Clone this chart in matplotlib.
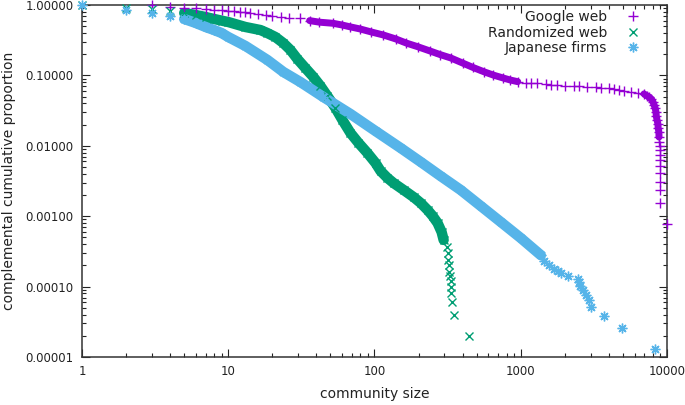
import numpy as np
import matplotlib
matplotlib.use("Agg")
import matplotlib.pyplot as plt
from matplotlib.ticker import LogLocator, NullFormatter, FixedLocator, FixedFormatter

# ---------------- data ----------------
google_size = [3, 4, 5, 6, 7, 8, 9, 10, 11, 12, 13, 14, 16, 18, 20, 23, 26, 31, 36, 42,
               52, 60, 68, 80, 95, 115, 140, 165, 197, 240, 280, 332, 400, 470, 558, 650,
               760, 850, 954, 1080, 1170, 1300, 1480, 1600, 1780, 2000, 2320, 2500, 2860,
               3250, 3530, 4000, 4350, 4700, 5060, 5640, 6330, 6960, 7300, 7540, 7800, 8020,
               8170, 8300, 8410, 8450, 8550, 8670, 8700, 8800, 8820, 8850, 8900, 8910, 8920,
               8930, 8935, 8940, 8945, 8950, 8955, 10050]
google_ccdf = [1.0, 0.95, 0.92, 0.90, 0.88, 0.86, 0.84, 0.82, 0.81, 0.80, 0.79, 0.78, 0.75,
               0.72, 0.70, 0.68, 0.66, 0.645, 0.60, 0.57, 0.55, 0.52, 0.49, 0.456, 0.414,
               0.375, 0.329, 0.288, 0.256, 0.222, 0.198, 0.177, 0.15, 0.13, 0.113, 0.101,
               0.0917, 0.0859, 0.0814, 0.079, 0.078, 0.077, 0.0755, 0.073, 0.0725, 0.0715,
               0.0706, 0.0700, 0.069, 0.0684, 0.0662, 0.0652, 0.064, 0.062, 0.0606, 0.059,
               0.0569, 0.0546, 0.0512, 0.0493, 0.0463, 0.0419, 0.0379, 0.0343, 0.0302,
               0.0264, 0.0233, 0.0205, 0.0179, 0.0157, 0.0133, 0.0113, 0.0100, 0.0087,
               0.0074, 0.0063, 0.0052, 0.0041, 0.0031, 0.00236, 0.00155, 0.00078]

random_size = [1, 2, 3, 4, 5, 6, 7, 8, 9, 10, 13.1, 16.6, 18.5, 21.0, 23.8, 26.6, 29.7,
               33.7, 38.2, 42.7, 47.6, 54.1, 60.4, 68.5, 77.7, 89.5, 101.6, 110, 122.7, 135,
               158, 185, 207, 231, 249.5, 270, 287.6, 297, 311, 316, 318, 321, 325, 328, 331,
               334, 336, 339, 348, 440]
random_ccdf = [1.0, 0.92, 0.877, 0.82, 0.77, 0.72, 0.675, 0.633, 0.60, 0.573, 0.487, 0.441,
               0.40, 0.351, 0.288, 0.23, 0.171, 0.127, 0.095, 0.0707, 0.051, 0.0344, 0.0232,
               0.0152, 0.011, 0.0079, 0.0057, 0.00439, 0.00349, 0.00296, 0.00236, 0.00187,
               0.00154, 0.00122, 0.00101, 0.0008, 0.000597, 0.00046, 0.000365, 0.0003,
               0.00024, 0.0002, 0.00016, 0.00014, 0.00012, 0.0001, 0.00008, 0.00006,
               0.00004, 0.00002]

firms_size = [1, 2, 3, 4, 5, 6, 7, 8, 9, 10, 13.1, 18.5, 23.8, 31.1, 44.7, 68.5, 101.6,
              151, 207, 283, 388, 532, 729, 1000, 1371, 1450, 1550, 1700, 1800, 1880, 2100,
              2455, 2500, 2560, 2660, 2790, 2920, 3015, 3700, 4920, 8270]
firms_ccdf = [1.0, 0.849, 0.77, 0.698, 0.633, 0.555, 0.487, 0.441, 0.40, 0.351, 0.262,
              0.166, 0.112, 0.0806, 0.0493, 0.0283, 0.0162, 0.0093, 0.0059, 0.00372,
              0.00236, 0.0014, 0.00083, 0.00049, 0.00028, 0.00023, 0.000205, 0.00018,
              0.000167, 0.000154, 0.000141, 0.000128, 0.000115, 0.000103, 0.00009,
              0.000077, 0.000064, 0.000051, 0.0000385, 0.0000256, 0.0000128]

series_labels = ["Google web", "Randomized web", "Japanese firms"]
series_colors = ["#9400D3", "#009E73", "#56B4E9"]

x_ticks = [1, 10, 100, 1000, 10000]
x_tick_labels = ["1", "10", "100", "1000", "10000"]
y_ticks = [1e-5, 1e-4, 1e-3, 1e-2, 1e-1, 1.0]
y_tick_labels = ["0.00001", "0.00010", "0.00100", "0.01000", "0.10000", "1.00000"]

# ---------------- figure ----------------
plt.rcParams["font.family"] = ["DejaVu Sans"]
fig = plt.figure(figsize=(6.85, 4.05), dpi=100)
ax = fig.add_axes([82 / 685, 48 / 405, 585 / 685, 352 / 405])
ax.set_xscale("log")
ax.set_yscale("log")
ax.set_xlim(1, 10000)
ax.set_ylim(1e-5, 1)


def band(sizes, vals, lo, hi, color, lw):
    s = np.asarray(sizes, dtype=float)
    v = np.asarray(vals, dtype=float)
    m = (s >= lo) & (s <= hi)
    ax.plot(s[m], v[m], color=color, lw=lw, solid_capstyle="round",
            solid_joinstyle="round", clip_on=False, zorder=2)


mew = 1.0
# Google web
band(google_size, google_ccdf, 36, 1000, series_colors[0], 5.0)
band(google_size, google_ccdf, 6960, 8820, series_colors[0], 5.0)
ax.plot(google_size, google_ccdf, linestyle="none", marker="+", ms=6.5, mew=mew,
        color=series_colors[0], label=series_labels[0], clip_on=False, zorder=3)
# Randomized web
band(random_size, random_ccdf, 5, 297, series_colors[1], 7.5)
ax.plot(random_size, random_ccdf, linestyle="none", marker="x", ms=5.5, mew=mew,
        color=series_colors[1], label=series_labels[1], clip_on=False, zorder=3)
# Japanese firms
band(firms_size, firms_ccdf, 5, 1371, series_colors[2], 7.5)
ax.plot(firms_size, firms_ccdf, linestyle="none", marker=(8, 2, 0), ms=7, mew=mew,
        color=series_colors[2], label=series_labels[2], clip_on=False, zorder=3)

# ticks
ax.xaxis.set_major_locator(FixedLocator(x_ticks))
ax.xaxis.set_major_formatter(FixedFormatter(x_tick_labels))
ax.yaxis.set_major_locator(FixedLocator(y_ticks))
ax.yaxis.set_major_formatter(FixedFormatter(y_tick_labels))
ax.xaxis.set_minor_locator(LogLocator(base=10, subs=np.arange(2, 10)))
ax.yaxis.set_minor_locator(LogLocator(base=10, subs=np.arange(2, 10)))
ax.xaxis.set_minor_formatter(NullFormatter())
ax.yaxis.set_minor_formatter(NullFormatter())
ax.tick_params(which="both", direction="in", top=True, right=True, color="#222222",
               width=0.8, labelsize=8.5, labelcolor="#222222")
ax.tick_params(which="major", length=5.5, pad=6)
ax.tick_params(which="minor", length=3)
for sp in ax.spines.values():
    sp.set_linewidth(1.1)
    sp.set_color("#333333")

ax.set_xlabel("community size", fontsize=10, color="#222222", labelpad=6)
ax.set_ylabel("complemental cumulative proportion", fontsize=10, color="#222222",
              labelpad=7)

leg = ax.legend(loc="upper right", bbox_to_anchor=(0.954, 0.985), markerfirst=False,
                frameon=False, fontsize=10, handlelength=1.0, handletextpad=1.37,
                labelspacing=0.1, borderpad=0, borderaxespad=0, numpoints=1)
for t in leg.get_texts():
    t.set_color("#222222")

fig.savefig("out.png", dpi=100)
